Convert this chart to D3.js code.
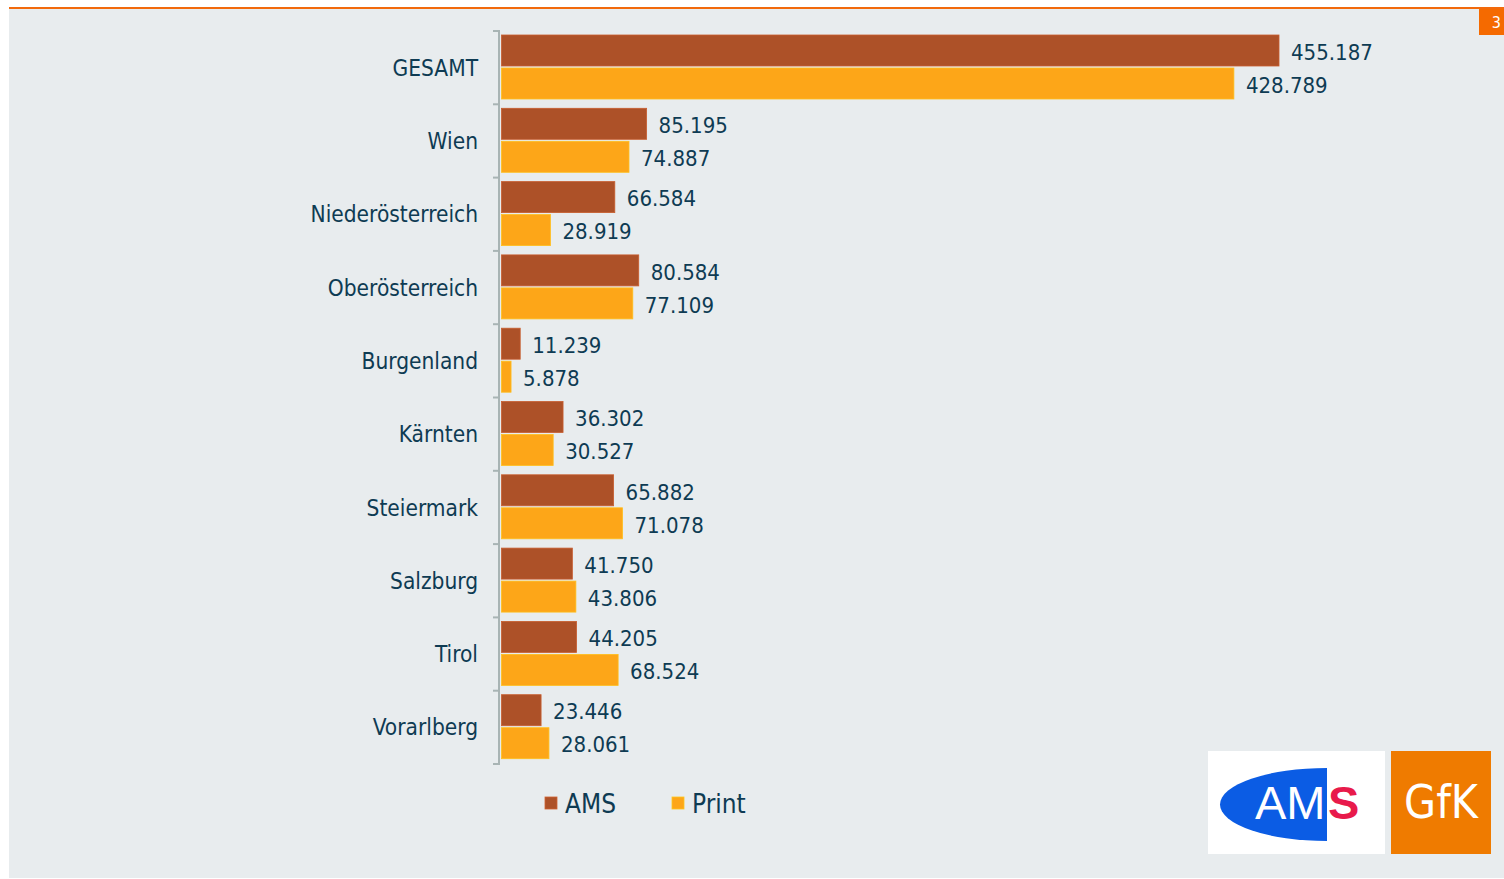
<!DOCTYPE html>
<html><head><meta charset="utf-8">
<script src="https://cdn.jsdelivr.net/npm/d3@7"></script>
<style>body{margin:0;background:#fff;}svg{display:block;}</style>
</head><body>
<script>
const categories = ["GESAMT","Wien","Niederösterreich","Oberösterreich","Burgenland","Kärnten","Steiermark","Salzburg","Tirol","Vorarlberg"];
const seriesNames = ["AMS","Print"];
const amsValues = [455.187,85.195,66.584,80.584,11.239,36.302,65.882,41.750,44.205,23.446];
const printValues = [428.789,74.887,28.919,77.109,5.878,30.527,71.078,43.806,68.524,28.061];
const colors = {AMS:"#ad5128", Print:"#fda618"};
const fmt = v => v.toFixed(3);

const W=1504,H=879;
const svg=d3.select("body").append("svg").attr("width",W).attr("height",H);
const font="'DejaVu Sans Condensed','DejaVu Sans',sans-serif";
const textCol="#0e3b53";

svg.append("rect").attr("x",9).attr("y",9).attr("width",W-9).attr("height",H-10).attr("fill","#e8ecee");
svg.append("rect").attr("x",9).attr("y",7).attr("width",W-9).attr("height",2).attr("fill","#f26a0c");
svg.append("rect").attr("x",1479).attr("y",9).attr("width",30).attr("height",26).attr("fill","#f56a00");
svg.append("text").attr("x",1501).attr("y",28).attr("text-anchor","end").attr("fill","#fff").attr("font-family",font).attr("font-size",16).text("3");

const y=d3.scaleBand().domain(categories).range([31,764]).padding(0);
const ys=d3.scaleBand().domain(seriesNames).range([4,68]).paddingInner(0.0606);
const x=d3.scaleLinear().domain([0,500]).range([501,501+500*1.7092]);

const data=categories.map((c,i)=>({cat:c,AMS:amsValues[i],Print:printValues[i]}));

const g=svg.append("g");
data.forEach(d=>{
  seriesNames.forEach(s=>{
    const by=y(d.cat)+ys(s);
    g.append("rect").attr("x",x(0)+0.5).attr("y",by).attr("width",x(d[s])-x(0)-0.5).attr("height",ys.bandwidth())
      .attr("fill",colors[s]).attr("stroke",d3.color(colors[s]).brighter(0.4)).attr("stroke-width",0.8);
    g.append("text").attr("x",x(d[s])+12).attr("y",by+ys.bandwidth()/2).attr("dy","0.42em")
      .attr("font-family",font).attr("font-size",22).attr("fill",textCol).text(fmt(d[s]));
  });
  g.append("text").attr("x",478).attr("y",y(d.cat)+y.bandwidth()/2).attr("dy","0.36em")
    .attr("text-anchor","end").attr("font-family",font).attr("font-size",22.5).attr("fill",textCol).text(d.cat);
});

// axis
const axCol="#a8b4b4";
svg.append("line").attr("x1",499).attr("x2",499).attr("y1",31).attr("y2",764).attr("stroke",axCol).attr("stroke-width",2);
const ticks=categories.map(c=>y(c)).concat([y.range()[1]]);
svg.selectAll(".tk").data(ticks).enter().append("line").attr("x1",493).attr("x2",500).attr("y1",d=>d).attr("y2",d=>d).attr("stroke",axCol).attr("stroke-width",2);

// legend
const leg=[{n:"AMS",x:545},{n:"Print",x:672}];
leg.forEach(l=>{
  svg.append("rect").attr("x",l.x).attr("y",797).attr("width",12).attr("height",12).attr("fill",colors[l.n]).attr("stroke",d3.color(colors[l.n]).brighter(0.5)).attr("stroke-width",0.8);
  svg.append("text").attr("x",l.x+20).attr("y",803).attr("dy","0.38em").attr("font-family",font).attr("font-size",26).attr("fill",textCol).text(l.n);
});

// logos
svg.append("rect").attr("x",1208).attr("y",751).attr("width",177).attr("height",103).attr("fill","#fff");
svg.append("path").attr("d","M1327,768 A107,36.5 0 0 0 1327,841 Z").attr("fill","#0b5ce4");
svg.append("text").attr("x",1255).attr("y",819).attr("font-family","'Liberation Sans',Arial,sans-serif").attr("font-size",47).attr("fill","#fff").text("AM");
svg.append("text").attr("x",1328).attr("y",819).attr("font-family","'Liberation Sans',Arial,sans-serif").attr("font-weight","bold").attr("font-size",47).attr("fill","#e81a4b").text("S");
svg.append("rect").attr("x",1391).attr("y",751).attr("width",100).attr("height",103).attr("fill","#ef7b00");
svg.append("text").attr("x",1441).attr("y",818).attr("text-anchor","middle").attr("font-family","'DejaVu Sans Condensed',sans-serif").attr("font-size",46).attr("fill","#fff").text("GfK");
</script>
</body></html>
